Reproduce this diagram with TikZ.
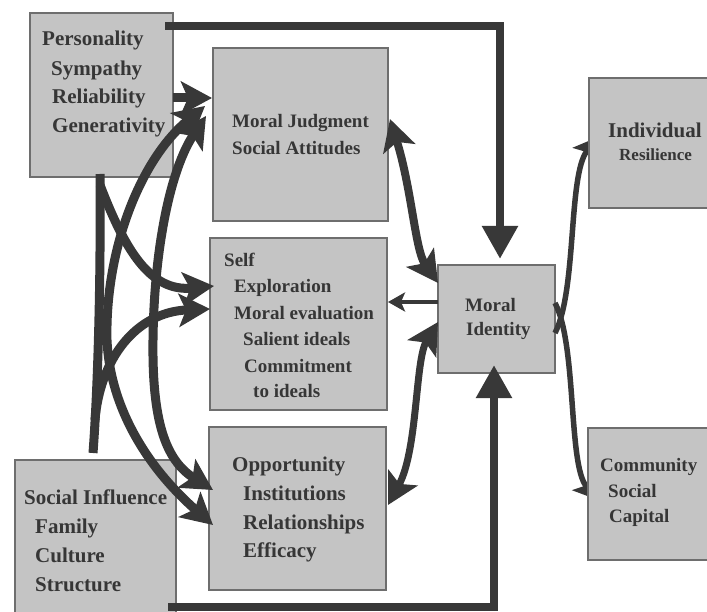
\documentclass[tikz,border=0pt]{standalone}
\usepackage{fontspec}
\setmainfont{Liberation Serif}
\newfontfamily\tnrfont{Liberation Serif}
\usetikzlibrary{arrows.meta}
\definecolor{boxfill}{HTML}{C4C4C4}
\definecolor{boxline}{HTML}{6E6E6E}
\definecolor{ink}{HTML}{383838}
\definecolor{txtc}{HTML}{363636}
\tikzset{
  panel/.style={draw=boxline, line width=1.2pt, fill=boxfill, inner sep=0pt, outer sep=0pt, anchor=north west},
  lab/.style={text=txtc, inner sep=0pt, anchor=base west, font=\tnrfont\fontsize{#1}{#1}\selectfont\bfseries},
  lab/.default=20,
  flow/.style={draw=ink, line width=9pt},
  thin flow/.style={draw=ink, line width=5.5pt},
  bighead/.style={-{Stealth[length=31pt,width=33pt,inset=7pt]}},
  twohead/.style={{Stealth[length=31pt,width=33pt,inset=7pt]}-{Stealth[length=31pt,width=33pt,inset=7pt]}},
  smallhead/.style={-{Stealth[length=24pt,width=26pt,inset=5pt]}},
  tinyhead/.style={-{Stealth[length=17pt,width=19pt,inset=4pt]}},
  bar/.style={draw=ink, line width=8.5pt, line join=miter, -{Triangle[length=33pt,width=34pt]}}
}
\begin{document}
\begin{tikzpicture}[x=1pt,y=-1pt]
\fill[white] (0,0) rectangle (707,612);
\useasboundingbox (0,0) rectangle (707,612);

% left-side boxes
\node[panel, minimum width=143pt, minimum height=164pt] (P) at (30,13) {};
\node[panel, minimum width=161pt, minimum height=170pt] (S) at (15,460) {};
\node[panel, minimum width=175pt, minimum height=173pt] (MJ) at (213,48) {};
\node[panel, minimum width=177pt, minimum height=172pt] (SE) at (210,238) {};
\node[panel, minimum width=177pt, minimum height=163pt] (OP) at (209,427) {};
\node[panel, minimum width=117pt, minimum height=108pt] (MI) at (438,265) {};

% connector end points
\coordinate (pb1) at (100,174);
\coordinate (pb2) at (100,185);
\coordinate (sT) at (93,453);
\coordinate (sB) at (95,420);
\coordinate (mjA) at (212,98);
\coordinate (mjB) at (205,106);
\coordinate (mjC) at (206,116);
\coordinate (seA) at (214,286);
\coordinate (seB) at (210,309);
\coordinate (opA) at (213,490);
\coordinate (opB) at (213,525);
\coordinate (mjR) at (390,119);
\coordinate (seR) at (388,302);
\coordinate (opR) at (388,505);
\coordinate (miA) at (438,283);
\coordinate (miB) at (438,302);
\coordinate (miC) at (438,322);
\coordinate (miD) at (555,303);
\coordinate (miE) at (555,333);
\coordinate (inA) at (598,137);
\coordinate (coA) at (598,500);

% left curves
\draw[flow] (pb1) .. controls (101,300) and (97,400) .. (sT);
\draw[flow, bighead] (pb2) .. controls (125,250) and (150,292) .. (seA);
\draw[flow, bighead] (sB) .. controls (100,360) and (135,312) .. (seB);
\draw[flow, twohead] (opB) .. controls (150,470) and (110,410) .. (107,340)
      .. controls (105,250) and (140,160) .. (mjB);
\draw[flow, twohead] (opA) .. controls (165,460) and (152,420) .. (153,340)
      .. controls (154,250) and (170,170) .. (mjC);
\draw[flow, bighead] (P.east |- mjA) -- (mjA);

% middle curves
\draw[flow, line width=8pt, twohead] (miA) .. controls (415,250) and (412,190) .. (mjR);
\draw[flow, line width=7pt, twohead] (miC) .. controls (415,360) and (418,450) .. (opR);
\draw[draw=ink, line width=4pt, tinyhead] (miB) -- (seR);

% right curves
\draw[thin flow, smallhead] (miE) .. controls (577,290) and (568,175) .. (inA);
\draw[thin flow, smallhead] (miD) .. controls (577,345) and (568,465) .. (coA);

% right boxes
\node[panel, minimum width=130pt, minimum height=130pt] (IN) at (589,78) {};
\node[panel, minimum width=130pt, minimum height=132pt] (CO) at (588,428) {};

% thick bars
\draw[bar] (165,26) -- (500,26) -- (500,259);
\draw[bar] (168,607) -- (494,607) -- (494,365);

% texts
\node[lab=21] (t1) at (42,46) {Personality};
\node[lab=21] (t2) at (51,76) {Sympathy};
\node[lab=21] (t3) at (52,104) {Reliability};
\node[lab=21] (t4) at (52,133) {Generativity};

\node[lab=19] (t5) at (232,128) {Moral Judgment};
\node[lab=19] (t6) at (232,155) {Social Attitudes};

\node[lab=19] (t7) at (224,267) {Self};
\node[lab=19] (t8) at (234,293) {Exploration};
\node[lab=19] (t9) at (234,320) {Moral evaluation};
\node[lab=19] (t10) at (243,345) {Salient ideals};
\node[lab=19] (t11) at (244,372) {Commitment};
\node[lab=19] (t12) at (253,397) {to ideals};

\node[lab=21] (t13) at (232,471) {Opportunity};
\node[lab=21] (t14) at (243,500) {Institutions};
\node[lab=21] (t15) at (243,529) {Relationships};
\node[lab=21] (t16) at (243,557) {Efficacy};

\node[lab=21] (t17) at (24,504) {Social Influence};
\node[lab=21] (t18) at (35,533) {Family};
\node[lab=21] (t19) at (35,562) {Culture};
\node[lab=21] (t20) at (35,591) {Structure};

\node[lab=19] (t21) at (465,312) {Moral};
\node[lab=19] (t22) at (466,336) {Identity};

\node[lab=21] (t23) at (608,138) {Individual};
\node[lab=17] (t24) at (619,161) {Resilience};

\node[lab=19] (t25) at (600,471) {Community};
\node[lab=19] (t26) at (608,497) {Social};
\node[lab=19] (t27) at (609,522) {Capital};
\end{tikzpicture}
\end{document}
